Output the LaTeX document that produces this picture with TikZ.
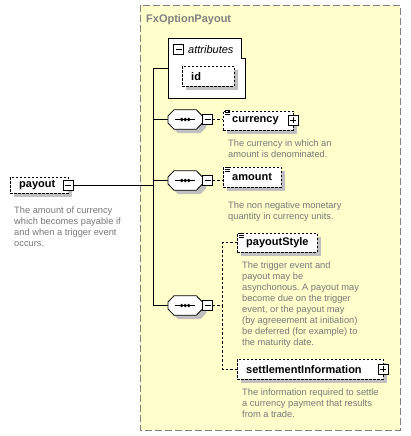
\documentclass[tikz,border=0pt]{standalone}
\usepackage{fontspec}
\setmainfont{Liberation Sans}
\definecolor{panelyellow}{RGB}{255,255,204}
\definecolor{panelgray}{RGB}{128,128,128}
\definecolor{notegray}{RGB}{120,120,120}
\definecolor{shadowgray}{RGB}{192,192,192}
\frenchspacing

\begin{document}
\begin{tikzpicture}[
    x=1pt, y=-1pt,
    every node/.style={inner sep=0pt},
    shadebox/.style={preaction={fill=shadowgray, draw=none, transform canvas={xshift=4pt, yshift=-4pt}}},
    elem/.style={draw, fill=white, dash pattern=on 2.5pt off 1.5pt, anchor=north west, inner xsep=9pt, align=left, font=\bfseries\fontsize{11}{13}\selectfont, minimum height=20pt, shadebox},
    note/.style={anchor=north west, align=left, text=notegray, font=\fontsize{9.3}{11}\selectfont},
    seq/.style={minimum width=34pt, minimum height=19pt, anchor=west},
    oct/.style={insert path={([yshift=3.5pt]#1.west) -- ([xshift=6pt]#1.north west) -- ([xshift=-6pt]#1.north east) -- ([yshift=3.5pt]#1.east) -- ([yshift=-3.5pt]#1.east) -- ([xshift=-6pt]#1.south east) -- ([xshift=6pt]#1.south west) -- ([yshift=-3.5pt]#1.west) -- cycle}},
    minus/.style={draw, solid, fill=white, minimum size=10pt, path picture={\draw ([xshift=2pt]path picture bounding box.west) -- ([xshift=-2pt]path picture bounding box.east);}},
    plus/.style={draw, solid, fill=white, minimum size=10pt, path picture={\draw ([xshift=2pt]path picture bounding box.west) -- ([xshift=-2pt]path picture bounding box.east); \draw ([yshift=-2pt]path picture bounding box.north) -- ([yshift=2pt]path picture bounding box.south);}},
    link/.style={line width=0.9pt},
    optlink/.style={line width=0.9pt, dash pattern=on 2.5pt off 2pt},
    panel/.style={draw=panelgray, fill=panelyellow, line width=0.9pt, dash pattern=on 7pt off 3pt}
]
\useasboundingbox (0,0) rectangle (411,436);

% complex type panel
\draw[panel] (140,5) rectangle (400,430);
\node[anchor=base west, text=panelgray, font=\bfseries\fontsize{11}{13}\selectfont] (title) at (146,23) {FxOptionPayout};

% attributes group
\draw[fill=white, line width=0.8pt] (168,38) -- (241,38) -- (241,58) -- (245,58) -- (245,98) -- (168,98) -- cycle;
\coordinate (attr) at (168,68);
\node[minus] (am) at (178.5,49) {};
\node[anchor=base west, font=\itshape\fontsize{11}{13}\selectfont] (attrlabel) at (188,53) {attributes};
\node[elem, text width=34pt] (id) at (182,66) {id};

% spine
\coordinate (spinetop) at (153,68);
\coordinate (spinebot) at (153,305.5);
\draw[link] (spinetop) -- (spinebot);
\draw[link] (spinetop) -- (attr);

% root element
\node[elem, minimum height=16pt, text width=40pt] (payout) at (10,177) {payout};
\node[minus] (pm) at (payout.east) {};
\draw[link] (pm.east) -- (pm.east -| spinetop);
\node[note] (payoutnote) at (14,206.5) {The amount of currency\\which becomes payable if\\and when a trigger event\\occurs.};

% sequences
\foreach \n/\y in {1/119.5, 2/180.5, 3/305.5} {
  \node[seq] (s\n) at (168,\y) {};
  \path[fill=shadowgray, transform canvas={xshift=4pt, yshift=-4pt}, oct=s\n];
  \path[draw, fill=white, line width=0.8pt, oct=s\n];
  \node[minus, anchor=west] (m\n) at (s\n.east) {};
  \draw[line width=1.3pt] ([xshift=-10pt]s\n.center) -- ([xshift=10pt]s\n.center);
  \foreach \d in {-3.5,0,3.5} \fill ([xshift=\d pt]s\n.center) circle (1.8);
  \draw[link] (s\n.west -| spinetop) -- (s\n.west);
}

% children
\node[elem, minimum height=19pt, text width=52pt] (currency) at (223,110.5) {currency};
\node[plus] (cp) at (currency.east) {};
\node[note] (currencynote) at (228,139.5) {The currency in which an\\amount is denominated.};
\draw[optlink] (m1.east) -- (currency.west |- m1.east);

\node[elem, text width=40pt] (amount) at (223,167) {amount};
\node[note] (amountnote) at (228,201.5) {The non negative monetary\\quantity in currency units.};
\draw[optlink] (m2.east) -- (amount.west |- m2.east);

\coordinate (fork) at (222,305.5);
\draw[optlink] (m3.east) -- (fork);

\node[elem, minimum height=19pt, text width=62pt] (payoutstyle) at (237,233) {payoutStyle};
\node[note] (payoutstylenote) at (242,261.5) {The trigger event and\\payout may be\\asynchonous. A payout may\\become due on the trigger\\event, or the payout may\\(by agreeement at initiation)\\be deferred (for example) to\\the maturity date.};
\draw[optlink] (payoutstyle.west) -| (fork);

\node[elem, text width=128pt] (settlement) at (237,359) {settlementInformation};
\node[plus] (sp) at (settlement.east) {};
\node[note] (settlementnote) at (242,388.5) {The information required to settle\\a currency payment that results\\from a trade.};
\draw[optlink] (settlement.west) -| (fork);

% documentation marks
\foreach \e in {currency, amount, payoutstyle}
  \foreach \k in {0,2,4}
    \draw[line width=0.7pt] ([xshift=2pt,yshift=-\k pt]\e.north west) -- +(5,0);
\end{tikzpicture}
\end{document}
